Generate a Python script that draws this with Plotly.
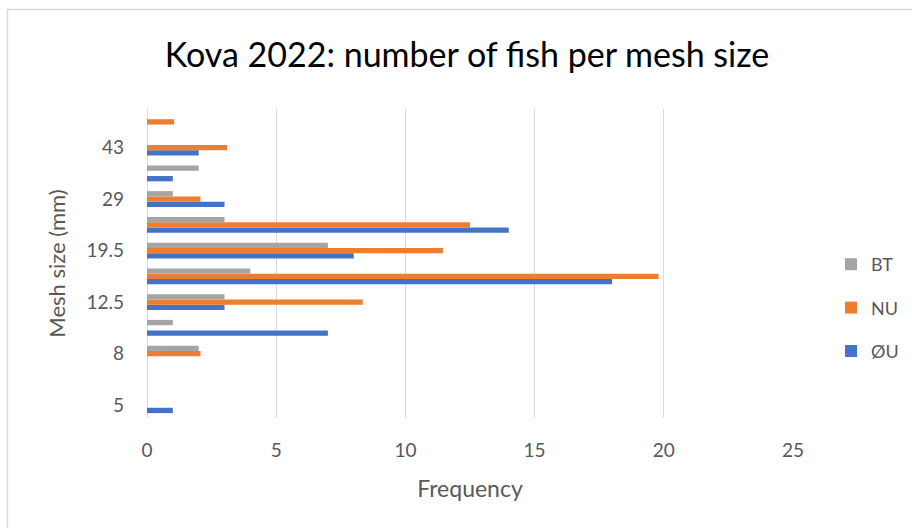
import plotly.graph_objects as go

categories = ["5", "6.25", "8", "10", "12.5", "15.5", "19.5", "24", "29", "35", "43", "55"]
tick_labels = ["5", "8", "12.5", "19.5", "29", "43"]
ou = [1, 0, 0, 7, 3, 18, 8, 14, 3, 1, 2, 0]
nu = [0, 0, 2.07, 0, 8.35, 19.8, 11.45, 12.5, 2.07, 0, 3.1, 1.05]
bt = [0, 0, 2, 1, 3, 4, 7, 3, 1, 2, 0, 0]

series = [("ØU", ou, "#4472C4", 3), ("NU", nu, "#ED7D31", 2), ("BT", bt, "#A5A5A5", 1)]
FONT = "Lato, 'Open Sans', sans-serif"
GREY = "#595959"

fig = go.Figure()
for name, vals, col, rank in series:
    fig.add_trace(go.Bar(
        y=categories, x=vals, name=name, orientation="h",
        marker=dict(color=col, line=dict(width=0)),
        legendgroup=name, legendrank=rank,
    ))

W, H = 912, 528
L, R, T, B = 147, 119, 109, 110
pw, ph = W - L - R, H - T - B

def px_x(px):
    return (px - L) / pw

def px_y(py):
    return (H - B - py) / ph

fig.update_layout(
    width=W, height=H,
    margin=dict(l=L, r=R, t=T, b=B, autoexpand=False),
    paper_bgcolor="white", plot_bgcolor="white",
    barmode="group", bargap=0.38, bargroupgap=0,
    title=dict(text="Kova 2022: number of fish per mesh size",
               x=467 / W, xanchor="center", y=1 - 55 / H, yanchor="middle",
               font=dict(family=FONT, size=34, color="#000000")),
    font=dict(family=FONT, color=GREY),
    legend=dict(traceorder="grouped", tracegroupgap=17,
                x=px_x(831), xanchor="left", y=px_y(246), yanchor="top",
                font=dict(family=FONT, size=18, color=GREY),
                itemwidth=30, bgcolor="rgba(0,0,0,0)"),
    xaxis=dict(range=[0, 25], dtick=5, tick0=0, showgrid=True,
               gridcolor="#D9D9D9", gridwidth=1.3, zeroline=True,
               zerolinecolor="#D9D9D9", zerolinewidth=1.3,
               showline=False, ticks="",
               tickfont=dict(family=FONT, size=19, color=GREY),
               ticklabelstandoff=19,
               title=dict(text="Frequency", standoff=20,
                          font=dict(family=FONT, size=23, color=GREY))),
    yaxis=dict(type="category", categoryorder="array", categoryarray=categories,
               tickmode="array", tickvals=tick_labels, ticktext=tick_labels,
               showgrid=False, showline=False, ticks="",
               tickfont=dict(family=FONT, size=19, color=GREY),
               ticklabelstandoff=22,
               title=dict(text="Mesh size (mm)", standoff=14,
                          font=dict(family=FONT, size=22, color=GREY))),
    shapes=[dict(type="rect", xref="paper", yref="paper",
                 x0=px_x(7.5), x1=px_x(940), y0=px_y(560), y1=px_y(9.5),
                 line=dict(color="#D9D9D9", width=1.5), layer="below")],
)

fig.write_html("out.html")
